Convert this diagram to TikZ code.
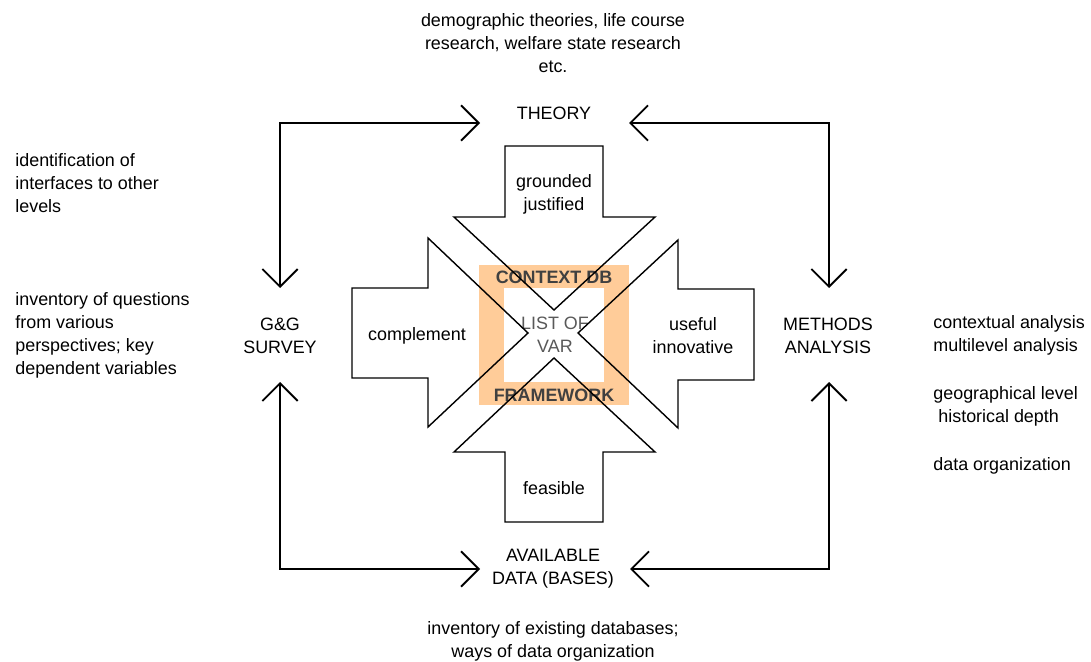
\documentclass[tikz,border=0pt]{standalone}
\usepackage{fontspec}
\setmainfont{Liberation Sans}
\usepackage{xcolor}
\usetikzlibrary{arrows.meta,positioning,calc}

\definecolor{frameorange}{RGB}{255,204,153}
\newcommand{\dfont}{\fontsize{10.2}{13.1}\selectfont}

\begin{document}
\begin{tikzpicture}[x=0.02cm, y=-0.02cm, font=\dfont]
  % Define styles
  \tikzstyle{txt} = [inner sep=0pt, align=center, font=\dfont]
  \tikzstyle{note} = [inner sep=0pt, align=left, anchor=west, font=\dfont]
  \tikzstyle{frametxt} = [inner sep=0pt, font=\dfont\bfseries, text=black!75]
  \tikzstyle{block} = [draw, line width=0.8pt, line join=miter]
  \tikzstyle{link} = [line width=1.1pt, {Straight Barb[angle=90:0.5cm]}-{Straight Barb[angle=90:0.5cm]}]

  \useasboundingbox (0,0) rectangle (1091,662);

  % Context frame
  \fill[frameorange] (479,265) rectangle (629,405);
  \fill[white] (504,288) rectangle (604,382);
  \node[frametxt] (ctxdb) at (554,277) {CONTEXT DB};
  \node[txt, text=black!65] (listvar) at (555,335) {LIST OF\\VAR};
  \node[frametxt] (framework) at (554,395) {FRAMEWORK};

  % Block arrows
  \draw[block] (505,146) -- (603,146) -- (603,217) -- (655,217) -- (554,310) -- (454,217) -- (505,217) -- cycle;
  \draw[block] (505,522) -- (603,522) -- (603,452) -- (655,452) -- (554,358) -- (454,452) -- (505,452) -- cycle;
  \draw[block] (352,288) -- (428,288) -- (428,238) -- (528,333) -- (428,427) -- (428,378) -- (352,378) -- cycle;
  \draw[block] (754,289) -- (678,289) -- (678,240) -- (578,333) -- (678,428) -- (678,380) -- (754,380) -- cycle;

  \node[txt] (grounded) at (554,194) {grounded\\justified};
  \node[txt] (complement) at (417,336) {complement};
  \node[txt] (useful) at (693,336) {useful\\innovative};
  \node[txt] (feasible) at (554,488) {feasible};

  % Main nodes
  \node[txt] (theory) at (554,113) {THEORY};
  \node[txt] (survey) at (280,336) {G\&G\\SURVEY};
  \node[txt] (methods) at (828,336) {METHODS\\ANALYSIS};
  \node[txt] (data) at (553,569) {AVAILABLE\\DATA (BASES)};

  % Notes
  \node[txt] (theorynote) at (553,43) {demographic theories, life course\\research, welfare state research\\etc.};
  \node[note] (ifacenote) at (15,183) {identification of\\interfaces to other\\levels};
  \node[note] (surveynote) at (15,335) {inventory of questions\\from various\\perspectives; key\\dependent variables};
  \node[note] (methodsnote) at (933,395) {contextual analysis\\multilevel analysis\\[14.2pt]geographical level\\\hspace*{0.1cm}historical depth\\[14.2pt]data organization};
  \node[txt] (datanote) at (553,641) {inventory of existing databases;\\ways of data organization};

  % Connectors
  \coordinate (thw) at (480,123);
  \coordinate (the) at (629,123);
  \coordinate (daw) at (480,569);
  \coordinate (dae) at (630,569);
  \coordinate (svn) at (280,288);
  \coordinate (svs) at (280,382);
  \coordinate (men) at (829,288);
  \coordinate (mes) at (829,382);
  \draw[link] (svn) |- (thw);
  \draw[link] (men) |- (the);
  \draw[link] (svs) |- (daw);
  \draw[link] (mes) |- (dae);
\end{tikzpicture}
\end{document}
